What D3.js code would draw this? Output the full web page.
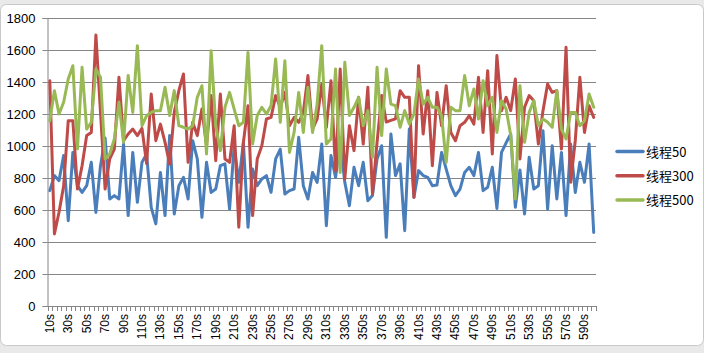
<!DOCTYPE html>
<html lang="zh">
<head>
<meta charset="UTF-8">
<title>线程</title>
<style>
  body { margin: 0; background: #fff; }
  svg { display: block; font-family: "Liberation Sans", Arial, sans-serif; }
</style>
</head>
<body>
<script src="https://d3js.org/d3.v7.min.js"></script>
<script>

// categories: one sample every 5 seconds, 10s .. 600s
const categories = d3.range(10, 605, 5).map(s => s + 's');

const yTicks = [0, 200, 400, 600, 800, 1000, 1200, 1400, 1600, 1800];

const seriesNames = ['线程50', '线程300', '线程500'];

const thread50 = [
  721, 815, 783, 940, 533, 960, 752, 710, 752, 898,
  585, 877, 1050, 669, 690, 669, 1012, 565, 960, 648,
  898, 950, 617, 513, 835, 565, 1065, 575, 752, 804,
  669, 1033, 919, 554, 898, 710, 731, 877, 888, 606,
  1002, 773, 1023, 492, 856, 752, 794, 815, 710, 919,
  981, 700, 721, 731, 1054, 752, 669, 835, 773, 1012,
  502, 940, 804, 1023, 773, 627, 867, 752, 898, 658,
  690, 919, 1002, 429, 1075, 815, 888, 471, 1106, 679,
  846, 815, 804, 752, 756, 960, 856, 752, 690, 731,
  835, 867, 815, 960, 721, 742, 867, 610, 960, 1020,
  1075, 617, 850, 575, 929, 731, 752, 1096, 606, 1002,
  669, 960, 565, 1012, 710, 898, 773, 1012, 460
];

const thread300 = [
  1408, 450, 586, 750, 1158, 1158, 731, 877, 1065, 1085,
  1694, 1210, 731, 919, 981, 1429, 1033, 1075, 1106, 1065,
  1110, 890, 1325, 1033, 1137, 1023, 888, 1210, 1346, 1450,
  898, 1148, 1065, 1231, 1002, 1315, 908, 1325, 919, 898,
  1127, 492, 1023, 1252, 565, 919, 1002, 1169, 1179, 1315,
  1242, 1335, 1127, 1179, 1148, 1210, 1440, 1106, 1169, 1387,
  1117, 1408, 846, 1481, 794, 1127, 971, 1304, 1012, 1367,
  700, 1023, 1315, 1150, 1160, 1170, 1346, 1304, 1304, 679,
  1502, 1075, 1346, 877, 1335, 1127, 1377, 1085, 1033, 1127,
  1148, 1190, 1137, 1429, 1085, 1471, 950, 1565, 1221, 1304,
  1221, 1419, 919, 1242, 1315, 1283, 1012, 1221, 1387, 1335,
  1346, 981, 1617, 773, 1033, 1429, 1085, 1252, 1179
];

const thread500 = [
  1158, 1346, 1200, 1273, 1419, 1502, 981, 1492, 1106, 1148,
  1481, 1429, 919, 950, 1044, 1273, 1023, 1440, 1210, 1627,
  1127, 1190, 1210, 1221, 1221, 1367, 1190, 1346, 1127, 1117,
  1106, 1127, 1304, 1377, 950, 1596, 1127, 971, 1242, 1335,
  1231, 1127, 1148, 1585, 1012, 1190, 1242, 1200, 1252, 1544,
  1148, 1533, 960, 1085, 1335, 1085, 1367, 1085, 1262, 1627,
  1012, 1044, 1481, 835, 1523, 1190, 1242, 1304, 1127, 1221,
  929, 1492, 1065, 1481, 1262, 1252, 1117, 1221, 1137, 1200,
  1419, 1262, 1304, 1242, 1242, 1190, 898, 1242, 1221, 1221,
  1440, 1252, 1356, 1169, 1408, 1252, 1304, 1085, 1283, 1231,
  1065, 669, 1377, 1023, 1210, 1283, 1127, 1169, 1148, 1117,
  1346, 1106, 1044, 1210, 1210, 1127, 1158, 1325, 1242
];

const seriesValues = [thread50, thread300, thread500];
const colors = ['#4a7ebb', '#be4b48', '#98b954'];

const width = 704, height = 353;
const plot = { left: 47.5, right: 596, top: 18, bottom: 306 };

const svg = d3.select('body').append('svg')
  .attr('width', width)
  .attr('height', height);

// spreadsheet background around the chart object
svg.append('rect').attr('width', width).attr('height', height).attr('fill', '#e9e9e9');
svg.append('rect')
  .attr('x', 0.5).attr('y', 4.5)
  .attr('width', width - 1).attr('height', 341)
  .attr('rx', 6)
  .attr('fill', '#fff')
  .attr('stroke', '#c8c8c8');

const x = d3.scaleBand()
  .domain(categories)
  .range([plot.left, plot.right])
  .padding(0);

const y = d3.scaleLinear()
  .domain([0, 1800])
  .range([plot.bottom, plot.top]);

// gridlines
svg.append('g')
  .selectAll('line')
  .data(yTicks.slice(1))
  .join('line')
  .attr('x1', plot.left).attr('x2', plot.right)
  .attr('y1', d => Math.round(y(d)) + 0.5)
  .attr('y2', d => Math.round(y(d)) + 0.5)
  .attr('stroke', '#868686')
  .attr('stroke-width', 1);

// y axis
const yAxis = svg.append('g')
  .attr('transform', `translate(${plot.left},0)`)
  .call(d3.axisLeft(y).tickValues(yTicks).tickSize(5).tickPadding(7).tickFormat(d3.format('d')));
yAxis.select('.domain').attr('stroke', '#868686');
yAxis.selectAll('.tick line').attr('stroke', '#868686');
yAxis.selectAll('text').attr('font-size', 13).attr('fill', '#000');
yAxis.selectAll('.tick').attr('transform', d => `translate(0,${Math.round(y(d)) + 0.5})`);

// x axis: tick marks on category boundaries, labels every 4th category
const xg = svg.append('g');
xg.append('line')
  .attr('x1', plot.left).attr('x2', plot.right)
  .attr('y1', plot.bottom + 0.5).attr('y2', plot.bottom + 0.5)
  .attr('stroke', '#868686');
xg.selectAll('line.tk')
  .data(categories.concat(['end']))
  .join('line')
  .attr('class', 'tk')
  .attr('x1', (d, i) => Math.round(plot.left + i * x.bandwidth()) + 0.5)
  .attr('x2', (d, i) => Math.round(plot.left + i * x.bandwidth()) + 0.5)
  .attr('y1', plot.bottom).attr('y2', plot.bottom + 5)
  .attr('stroke', '#868686');

const xLabels = categories.filter((d, i) => i % 4 === 0);
xg.selectAll('text')
  .data(xLabels)
  .join('text')
  .attr('transform', d => `translate(${x(d) + x.bandwidth() / 2 + 4},${plot.bottom + 8}) rotate(-90)`)
  .attr('text-anchor', 'end')
  .attr('font-size', 12)
  .attr('fill', '#000')
  .text(d => d);

// lines
const line = d3.line()
  .x((d, i) => x(categories[i]) + x.bandwidth() / 2)
  .y(d => y(d));

svg.append('g')
  .selectAll('path')
  .data(seriesValues)
  .join('path')
  .attr('d', line)
  .attr('fill', 'none')
  .attr('stroke', (d, i) => colors[i])
  .attr('stroke-width', 3)
  .attr('stroke-linejoin', 'round')
  .attr('stroke-linecap', 'round');

// legend
const legend = svg.append('g')
  .selectAll('g')
  .data(seriesNames)
  .join('g')
  .attr('transform', (d, i) => `translate(617,${151.5 + i * 24.3})`);
legend.append('line')
  .attr('x1', 0).attr('x2', 26)
  .attr('stroke', (d, i) => colors[i])
  .attr('stroke-width', 3.5)
  .attr('stroke-linecap', 'round');
legend.append('text')
  .attr('x', 29).attr('y', 5)
  .attr('font-size', 13)
  .attr('font-family', '"Noto Sans CJK SC", sans-serif')
  .attr('fill', '#000')
  .text(d => d);

</script>
</body>
</html>
